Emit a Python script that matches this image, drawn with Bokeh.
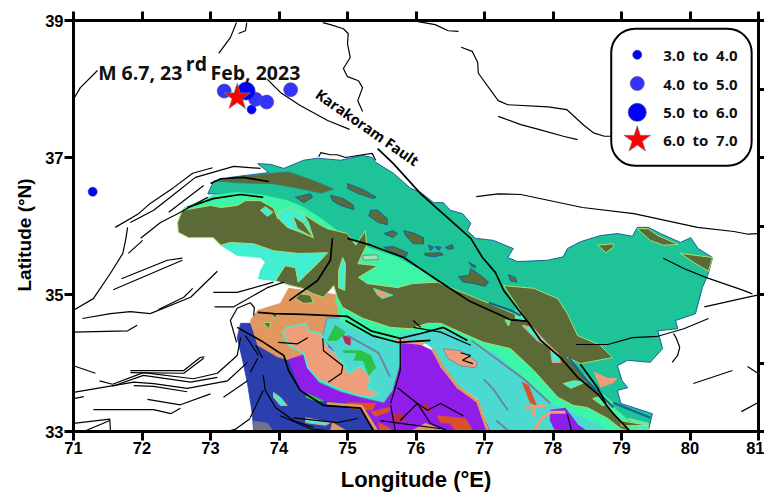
from bokeh.plotting import figure
from bokeh.embed import file_html
from bokeh.resources import INLINE
from bokeh.models import LinearAxis, FixedTicker, Range1d, Title
from bokeh.core.properties import value

# ---- earthquake catalogue (lon, lat) ----
mag_3_4 = [(73.60, 37.70), (71.28, 36.50)]
mag_4_5 = [(73.20, 37.97), (73.66, 37.85), (73.82, 37.81), (74.17, 37.99)]
mag_5_6 = [(73.52, 37.97)]
mag_6_7 = [(73.39, 37.88)]

legend_labels = ["3.0\u00a0\u00a0to\u00a0\u00a04.0", "4.0\u00a0\u00a0to\u00a0\u00a05.0",
                 "5.0\u00a0\u00a0to\u00a0\u00a06.0", "6.0\u00a0\u00a0to\u00a0\u00a07.0"]
legend_lat = [38.50, 38.08, 37.66, 37.26]
x_ticks = list(range(71, 82))
y_ticks_left = [33, 35, 37, 39]
y_ticks_right = list(range(33, 40))

# ---- geology polygons (lon, lat) ----
teal = [(72.96,36.47),(73.04,36.64),(73.29,36.71),(73.85,36.78),(73.69,36.91),(73.88,36.90),(74.07,36.84),(74.36,36.96),(74.56,36.99),(74.90,36.96),(75.22,37.03),(75.36,37.00),(75.41,36.93),(75.67,36.77),(75.92,36.55),(76.07,36.49),(76.26,36.34),(76.40,36.34),(76.50,36.23),(76.68,36.18),(76.80,36.04),(76.75,35.93),(76.87,35.82),(77.13,35.79),(77.42,35.67),(77.34,35.54),(77.48,35.48),(77.92,35.50),(78.15,35.55),(78.21,35.67),(78.40,35.77),(78.69,35.86),(78.94,35.89),(79.16,35.85),(79.23,35.98),(79.39,35.98),(79.57,35.89),(79.86,35.76),(80.01,35.83),(80.12,35.67),(80.33,35.54),(80.27,35.31),(80.18,35.10),(80.08,34.72),(79.79,34.62),(79.82,34.50),(79.53,34.47),(79.60,34.21),(79.42,34.01),(79.09,34.04),(78.94,33.96),(79.01,33.74),(79.09,33.64),(78.94,33.60),(78.99,33.41),(79.45,33.26),(79.39,33.0),(78.99,33.0),(78.40,33.74),(77.53,34.55),(76.36,35.13),(74.90,35.79),(73.58,36.45)]
aqua_north = [(72.61,36.26),(72.85,36.37),(73.04,36.45),(73.39,36.49),(73.77,36.45),(74.12,36.37),(74.36,36.27),(74.61,36.11),(75.00,35.82),(75.34,35.67),(75.73,35.54),(76.07,35.35),(76.31,35.18),(76.07,35.10),(75.77,35.06),(75.16,35.20),(74.31,35.35),(72.85,35.93),(72.56,36.15)]
olive_main = [(72.59,36.23),(72.66,36.24),(73.00,36.30),(73.15,36.27),(73.39,36.30),(73.51,36.37),(73.73,36.37),(73.92,36.26),(73.98,36.11),(74.31,36.20),(74.61,36.01),(74.71,35.96),(75.00,35.89),(75.12,35.72),(75.26,35.93),(75.28,35.72),(75.15,35.45),(75.44,35.42),(75.16,35.25),(75.29,35.16),(75.73,35.10),(75.95,35.16),(76.31,35.18),(77.60,34.65),(77.28,35.13),(77.72,35.09),(78.07,34.94),(78.21,34.72),(78.36,34.40),(78.69,34.26),(78.87,34.08),(78.40,33.99),(78.21,34.08),(78.50,33.77),(78.74,33.45),(79.13,33.0),(78.99,33.04),(78.80,33.19),(78.50,33.35),(78.30,33.38),(78.07,33.50),(77.72,33.89),(77.38,34.21),(76.99,34.30),(76.69,34.43),(76.36,34.58),(76.17,34.58),(75.92,34.50),(75.63,34.52),(75.23,34.65),(74.93,34.81),(74.85,34.96),(74.80,35.13),(74.65,34.96),(74.50,35.01),(74.34,35.09),(74.17,35.13),(73.95,35.20),(74.09,35.42),(74.24,35.39),(74.28,35.18),(74.56,35.45),(74.71,35.61),(74.28,35.60),(73.92,35.64),(73.63,35.74),(73.29,35.76),(73.15,35.72),(73.04,35.83),(72.68,35.83),(72.53,35.91),(72.52,36.05)]
olive_strip = [(73.06,36.66),(73.42,36.72),(73.90,36.77),(74.14,36.79),(74.48,36.67),(74.80,36.54),(74.62,36.48),(74.33,36.54),(73.90,36.62),(73.40,36.63)]
turq_nw = [(73.15,35.72),(73.39,35.57),(73.73,35.54),(73.80,35.47),(73.73,35.35),(73.70,35.23),(73.95,35.20),(74.09,35.42),(74.24,35.39),(74.28,35.18),(74.56,35.45),(74.71,35.61),(74.28,35.60),(73.92,35.64),(73.63,35.74),(73.29,35.76)]
turq_patch = [(73.99,36.20),(74.17,36.27),(74.34,36.20),(74.43,36.05),(74.50,35.83),(74.31,35.91),(74.12,35.98),(73.99,36.11)]
olive_in_patch = [(74.20,36.15),(74.36,36.04),(74.50,35.83),(74.27,35.96)]
turq_diamond = [(73.73,36.23),(73.80,36.28),(73.91,36.20),(73.83,36.14)]
turq_sliver = [(74.93,35.54),(74.97,35.45),(74.96,35.06),(74.87,35.10),(74.87,35.35)]
salmon_small = [(75.38,35.09),(75.66,34.99),(75.51,34.94),(75.44,34.99)]
pale_lens = [(75.22,35.57),(75.44,35.58),(75.45,35.51),(75.23,35.50)]
olive_tan_1 = [(74.31,35.01),(74.46,34.99),(74.50,34.88),(74.36,34.87),(74.24,34.94)]
olive_tan_2 = [(73.77,34.59),(73.88,34.59),(73.85,34.50)]
olive_tan_3 = [(73.88,34.72),(73.98,34.72),(73.95,34.65)]
tan_main = [(73.58,34.62),(73.69,34.77),(74.02,34.87),(74.14,35.09),(74.90,34.99),(75.04,34.62),(74.75,34.26),(74.17,34.07),(74.12,34.05),(73.98,34.09),(73.69,34.26)]
aqua_south = [(74.82,34.99),(74.90,34.60),(75.26,34.42),(75.70,34.30),(76.18,34.28),(76.36,34.35),(76.70,34.22),(77.15,33.95),(77.50,33.60),(77.90,33.25),(78.25,33.15),(78.60,33.0),(79.28,33.0),(78.69,33.53),(77.53,34.47),(76.36,34.77),(75.48,34.77),(74.97,35.06)]
turq_east = [(75.77,34.43),(76.17,34.45),(76.36,34.50),(76.69,34.37),(77.19,34.11),(77.57,33.77),(77.96,33.41),(78.30,33.26),(78.74,33.06),(78.69,33.0),(77.09,33.0),(76.99,33.26),(76.90,33.48),(76.61,33.67),(76.39,33.96),(76.24,34.21),(76.11,34.33),(75.77,34.33)]
purple_main = [(74.07,34.08),(74.12,33.89),(74.28,33.60),(74.42,33.45),(74.71,33.38),(75.19,33.31),(75.34,33.13),(75.41,33.0),(77.09,33.0),(76.90,33.41),(76.61,33.64),(76.36,33.93),(76.24,34.18),(75.77,34.40),(74.90,34.47),(74.31,34.33)]
purple_lens = [(77.96,33.31),(78.18,33.34),(78.37,33.09),(78.50,33.0),(78.04,33.0),(77.96,33.16)]
turq_west = [(74.70,34.66),(75.09,34.65),(75.53,34.50),(75.77,34.37),(75.77,33.99),(75.66,33.60),(75.53,33.42),(75.19,33.50),(74.90,33.58),(74.58,33.72),(74.50,33.85),(74.80,34.18),(74.63,34.37)]
salmon_main = [(74.05,34.45),(74.12,34.52),(74.39,34.58),(74.43,34.47),(74.61,34.43),(74.71,34.23),(74.82,34.14),(74.96,33.96),(75.01,33.85),(75.19,33.96),(75.34,33.79),(75.29,33.64),(75.48,33.55),(75.34,33.50),(75.15,33.53),(74.85,33.63),(74.56,33.77),(74.42,33.93),(74.36,34.14),(74.14,34.26)]
blue_main = [(73.44,34.58),(73.58,34.58),(73.69,34.28),(73.98,34.11),(74.12,34.07),(74.21,33.85),(74.31,33.60),(74.50,33.45),(75.00,33.41),(75.29,33.26),(75.41,33.0),(73.63,33.0),(73.61,33.26),(73.54,33.70),(73.48,33.99),(73.39,34.37)]
green_1 = [(74.71,34.33),(74.82,34.55),(74.97,34.45),(74.85,34.33)]
green_2 = [(74.93,34.18),(75.19,34.18),(75.34,34.11),(75.41,33.93),(75.31,33.82),(75.23,34.04),(75.04,34.04)]
green_lens = [(74.42,33.55),(74.65,33.45),(74.53,33.45),(74.39,33.50)]
turq_hole = [(74.93,34.14),(75.12,34.14),(75.07,33.99),(74.94,34.01)]
crimson_1 = [(74.93,34.40),(75.04,34.37),(75.04,34.26),(74.97,34.29)]
crimson_2 = [(75.63,33.23),(75.77,33.28),(75.85,33.16),(75.70,33.13)]
crimson_3 = [(76.07,33.34),(76.14,33.42),(76.24,33.28)]
red_1 = [(75.00,33.42),(75.41,33.41),(75.36,33.31),(75.04,33.34)]
red_2 = [(75.34,33.28),(75.63,33.36),(75.60,33.29),(75.41,33.22)]
red_3 = [(75.45,33.13),(75.63,33.04),(75.60,33.0),(75.48,33.0)]
red_4 = [(76.31,33.23),(76.72,33.19),(76.84,33.0),(76.58,33.0),(76.50,33.12),(76.36,33.13)]
red_5 = [(77.55,33.72),(77.64,33.67),(77.76,33.38),(77.67,33.42)]
tan_bottom = [(76.14,33.12),(76.43,33.0),(75.92,33.0)]
tan_blue = [(74.78,33.13),(75.0,33.0),(74.75,33.0)]
salmon_lens = [(76.40,34.21),(76.65,34.18),(76.90,34.01),(76.87,33.93),(76.65,33.96),(76.46,34.07)]
salmon_se = [(78.58,33.89),(78.80,33.79),(78.96,33.79),(78.88,33.70),(78.69,33.63),(78.62,33.79)]
aqua_lens = [(78.58,33.48),(78.74,33.53),(78.88,33.41),(78.72,33.38)]
aqua_small = [(77.30,34.63),(77.38,34.62),(77.35,34.54)]
turq_lens = [(78.15,33.70),(78.30,33.74),(78.47,33.72),(78.26,33.63)]
turq_fault = [(77.55,34.55),(77.70,34.52),(77.92,34.28),(78.07,34.14),(78.11,34.01),(77.99,34.01),(77.96,34.23),(77.77,34.33)]
turq_wedge = [(77.45,34.77),(77.63,34.62),(77.45,34.65)]
turq_tail = [(79.10,33.19),(79.39,33.12),(79.39,33.01),(79.28,33.01)]
olive_tail = [(78.99,33.16),(79.38,33.09),(79.0,33.08)]
turq_island = [(73.92,33.57),(74.02,33.50),(74.12,33.38),(74.02,33.38),(73.92,33.50)]
turq_strip = [(74.39,33.20),(74.75,33.13),(74.68,33.09),(74.39,33.13)]
grey_blue = [(73.63,33.15),(73.83,33.12),(73.92,33.0),(73.63,33.0)]
islands_blue = [
    [(74.24,36.42),(74.46,36.47),(74.49,36.42),(74.36,36.34)],
    [(74.75,36.45),(74.94,36.40),(75.09,36.30),(75.09,36.24),(74.90,36.30),(74.78,36.37)],
    [(75.0,36.62),(75.23,36.53),(75.42,36.42),(75.38,36.40),(75.16,36.47),(75.0,36.55)],
    [(75.34,36.23),(75.44,36.23),(75.58,36.11),(75.58,36.02),(75.45,36.05),(75.31,36.15)],
    [(75.53,35.89),(75.66,35.93),(75.73,35.89),(75.66,35.83)],
    [(75.82,35.93),(75.96,35.90),(76.11,35.83),(76.11,35.74),(75.96,35.74),(75.85,35.86)],
    [(75.53,35.69),(75.67,35.70),(75.88,35.61),(75.85,35.55),(75.66,35.61)],
    [(76.12,35.60),(76.36,35.61),(76.40,35.58),(76.26,35.55),(76.14,35.57)],
    [(76.18,35.72),(76.26,35.69),(76.21,35.64)],
    [(76.28,35.70),(76.37,35.69),(76.33,35.64)],
    [(76.43,35.69),(76.53,35.73),(76.55,35.67),(76.47,35.66)],
    [(76.77,35.47),(76.87,35.42),(76.87,35.39),(76.81,35.41)],
    [(76.62,35.26),(76.77,35.28),(76.80,35.38),(76.94,35.28),(77.06,35.18),(77.01,35.12),(76.84,35.16),(76.69,35.18)],
    [(77.35,35.29),(77.45,35.25),(77.47,35.18),(77.38,35.20)],
]
islands_lime = [
    [(78.65,35.72),(78.88,35.74),(78.88,35.69),(78.77,35.61),(78.72,35.66)],
    [(79.23,35.96),(79.39,35.96),(79.53,35.86),(79.83,35.73),(79.61,35.72),(79.42,35.79)],
    [(79.86,35.60),(80.33,35.54),(80.27,35.34),(80.05,35.47)],
]

# ---- coloured internal contacts (lon, lat) ----
salmon_branch = [
    [(77.60,33.35),(77.89,33.38)],
    [(77.72,33.38),(77.72,33.22)],
    [(77.72,33.0),(77.82,33.18),(77.96,33.28),(78.18,33.28)],
    [(75.70,34.33),(76.11,34.28)],
]
tan_edge = [
    [(76.24,34.20),(76.39,33.94),(76.61,33.65),(76.90,33.44),(77.05,33.0)],
    [(74.70,33.41),(75.20,33.37),(75.42,33.02)],
]
grey_contacts = [
    [(76.99,33.76),(77.12,33.63),(77.34,33.31)],
    [(77.17,33.16),(77.35,33.01)],
    [(76.81,34.33),(77.57,33.77),(77.96,33.41)],
    [(75.00,34.40),(75.45,34.15),(75.62,33.80)],
]
blue_contacts = [
    [(77.06,34.88),(77.38,34.77),(77.53,34.69)],
    [(78.88,33.42),(79.42,33.20)],
    [(78.23,34.08),(78.50,33.74),(78.88,33.35)],
]

# ---- faults (lon, lat) ----
faults_thin = [
    [(73.12,38.52),(73.29,38.75),(73.38,38.97)],
    [(73.41,38.81),(73.51,38.85),(73.53,38.97)],
    [(74.64,38.97),(74.75,38.94),(74.94,38.88),(75.01,38.81),(75.00,38.66),(75.04,38.46),(74.94,38.30),(75.00,38.18),(75.16,38.12),(75.22,38.02),(75.15,37.83),(75.22,37.67)],
    [(71.0,37.85),(71.10,38.02),(71.35,38.27)],
    [(73.83,38.14),(74.02,37.95),(74.31,37.76),(74.71,37.54),(75.03,37.41)],
    [(75.99,38.99),(76.28,38.94),(76.47,38.85),(76.62,38.84)],
    [(76.66,38.61),(76.82,38.55),(76.90,38.39),(76.91,38.23),(77.20,37.83),(77.34,37.77),(77.93,37.74),(78.20,37.70),(78.45,37.47),(78.59,37.36),(78.75,37.31),(78.85,37.31)],
    [(77.20,37.60),(77.53,37.48),(77.79,37.41),(78.15,37.31),(78.36,37.26)],
    [(76.88,36.43),(77.20,36.47),(77.53,36.46),(78.43,36.27),(79.18,36.18),(80.11,35.98),(80.64,35.92),(80.85,35.88),(80.99,35.89)],
    [(79.61,35.53),(79.91,35.38),(80.23,35.25),(80.78,35.06),(80.91,35.01)],
    [(80.21,34.82),(80.88,34.97),(80.99,34.99)],
    [(78.34,34.27),(78.80,34.27),(79.16,34.37),(79.53,34.39),(79.91,34.50),(80.27,34.65)],
    [(79.76,34.43),(79.80,34.36),(79.85,34.23),(79.82,34.11),(79.74,34.01)],
    [(80.05,33.70),(80.62,33.89)],
    [(80.84,33.95),(80.99,33.85)],
    [(80.75,33.29),(80.99,33.42)],
    [(74.58,37.01),(74.61,37.07),(74.75,37.04),(74.85,37.04),(74.97,37.0),(75.22,37.04),(75.36,37.06),(75.41,36.96)],
    [(71.61,35.98),(71.95,36.18),(72.12,36.33),(72.46,36.56),(72.74,36.77),(73.03,36.85)],
    [(71.83,36.05),(72.17,36.23),(72.45,36.45),(72.78,36.71),(73.34,36.87),(73.73,36.84)],
    [(72.39,36.20),(72.90,36.59)],
    [(71.98,35.82),(72.27,36.05),(72.52,36.18),(72.96,36.42)],
    [(71.0,34.77),(71.29,34.94),(71.54,35.31),(71.72,35.60),(71.76,35.79),(71.79,35.98)],
    [(71.80,35.60),(72.01,35.79)],
    [(71.70,35.23),(72.37,35.50),(72.59,35.53)],
    [(71.58,35.07),(72.52,35.47),(72.59,35.50)],
    [(71.13,34.65),(71.54,34.72),(71.83,34.75),(72.12,34.72)],
    [(71.0,34.45),(71.79,34.47),(71.93,34.55)],
    [(72.12,34.72),(72.71,34.96),(73.10,35.34)],
    [(72.24,34.78),(72.61,34.96),(72.74,35.09)],
    [(73.04,35.03),(73.39,35.03),(73.92,35.18)],
    [(73.06,34.82),(73.34,34.82),(73.83,35.10),(74.07,35.18)],
    [(73.38,34.30),(73.29,34.62),(73.39,34.80),(73.58,34.88),(73.64,34.81),(73.63,34.69)],
    [(71.0,33.96),(71.32,33.85)],
    [(71.83,33.89),(72.61,33.89),(72.85,34.08),(72.91,34.09)],
    [(71.83,33.86),(72.61,33.85),(72.90,34.07)],
    [(71.38,33.74),(71.57,33.69),(72.02,33.86),(72.75,33.77),(73.10,33.85),(73.39,34.11),(73.44,34.37)],
    [(71.57,33.66),(72.02,33.82),(72.71,33.72),(73.10,33.79)],
    [(71.0,33.57),(71.88,33.72),(72.17,33.70),(72.66,33.63),(73.25,33.74),(73.54,34.01)],
    [(71.88,33.67),(72.17,33.66),(72.66,33.58)],
    [(71.0,33.48),(71.15,33.51)],
    [(72.08,33.47),(72.56,33.39),(73.0,33.55)],
    [(71.29,33.32),(72.17,33.32),(72.42,33.26),(72.56,33.34)],
    [(73.19,33.50),(73.54,33.74)],
    [(71.0,33.12),(71.53,33.18),(71.54,33.0)],
    [(71.15,33.0),(71.53,33.16)],
    [(73.23,33.0),(73.36,33.03),(73.58,33.19)],
    [(73.77,33.82),(73.80,33.60),(73.95,33.35),(74.21,33.16),(74.50,33.06)],
    [(73.58,33.20),(73.77,33.60)],
    [(74.21,33.20),(74.85,33.13),(75.15,33.19)],
    [(74.02,33.23),(74.46,33.04),(74.82,33.0)],
    [(73.66,34.26),(73.76,34.07)],
    [(73.51,34.40),(73.70,34.11)],
    [(73.58,33.86),(73.69,34.07)],
    [(74.64,34.36),(74.65,34.18),(74.93,33.96),(74.91,33.85),(74.72,33.72)],
    [(73.99,34.30),(74.27,34.28),(74.42,34.37)],
    [(78.21,33.25),(78.27,33.01)],
    [(75.96,34.62),(76.07,34.52)],
    [(75.77,34.36),(75.77,33.89),(75.63,33.41)],
    [(75.73,33.64),(76.02,33.41),(76.17,33.31),(76.36,33.41),(76.69,33.23)],
    [(75.77,33.16),(76.02,33.41),(76.21,33.12),(76.46,33.01)],
    [(75.48,33.16),(76.36,33.04)],
    [(75.63,33.38),(75.70,33.0)],
    [(76.65,34.15),(76.80,34.11),(76.68,34.04),(76.83,33.99)],
    [(75.96,34.52),(76.36,34.45),(76.80,34.26)],
]
faults_thick = [
    [(75.44,37.13),(75.67,36.91),(76.07,36.47),(76.80,35.82),(76.97,35.54),(77.16,35.32),(77.28,35.06),(77.64,34.59),(77.82,34.33),(78.11,34.08),(78.36,33.79),(78.65,33.55),(78.88,33.26),(79.13,33.0)],
    [(78.40,33.98),(78.65,33.64),(78.77,33.41)],
    [(75.00,35.82),(75.34,35.72),(75.82,35.54),(76.36,35.18),(76.77,34.91),(77.19,34.72),(77.38,34.63),(77.63,34.61)],
    [(73.0,36.62),(73.15,36.69),(73.48,36.71),(73.85,36.65)],
    [(72.66,36.27),(73.04,36.40),(73.44,36.46),(73.77,36.42)],
    [(74.78,35.82),(74.75,35.50),(74.56,35.20),(74.15,34.91)],
    [(73.39,34.52),(73.73,34.33),(74.07,34.11),(74.14,33.89),(74.31,33.60),(74.65,33.38),(75.19,33.34),(75.38,33.01)],
    [(73.69,34.74),(73.92,34.72),(74.36,34.71),(75.0,34.68),(75.34,34.47),(75.77,34.36),(76.07,34.43),(76.40,34.52),(76.75,34.33)],
    [(74.97,34.62),(75.36,34.40),(75.74,34.30),(76.21,34.33)],
]

TEAL, OLIVE, AQUA = "#1EC497", "#5B6A36", "#3DF5A8"
TURQ, TURQ2, SALMON = "#4BD9D0", "#42EFD2", "#EE9E7A"
TAN, PURPLE, BLUE, GREEN = "#E1985F", "#8F1EEB", "#2B40AE", "#2CC24A"
RED, CRIMSON, LIME, EDGE = "#D9502B", "#B82A55", "#A8E070", "#15609F"

p = figure(width=764, height=495, output_backend="svg", toolbar_location=None,
           x_range=Range1d(71, 81), y_range=Range1d(33, 39),
           x_axis_location=None, y_axis_location=None,
           min_border_left=73, min_border_right=6, min_border_top=20, min_border_bottom=64,
           outline_line_color=None, background_fill_color="white", border_fill_color="white")
p.grid.visible = False


def fill(polys, color, line=None, lw=0.8):
    p.patches([[q[0] for q in poly] for poly in polys],
              [[q[1] for q in poly] for poly in polys],
              fill_color=color, line_color=line if line else color, line_width=lw)


def lines(paths, color, lw):
    p.multi_line([[q[0] for q in path] for path in paths],
                 [[q[1] for q in path] for path in paths],
                 line_color=color, line_width=lw)


fill([teal], TEAL, EDGE, 1.0)
fill([aqua_north], AQUA)
fill([turq_nw], TURQ2)
fill([purple_main], PURPLE)
fill([blue_main], BLUE)
fill([tan_main], TAN)
fill([turq_west], TURQ, "#70809A", 0.8)
fill([salmon_main], SALMON, TURQ2, 1.5)
fill([green_1, green_2, green_lens], GREEN)
fill([turq_hole], TURQ)
fill([crimson_1, crimson_2, crimson_3], CRIMSON)
fill([red_1, red_2, red_3, red_4], RED)
fill([tan_bottom, tan_blue], TAN)
fill([grey_blue], "#70748C")
fill([aqua_south], AQUA)
fill([turq_east], TURQ)
fill([red_5], RED)
fill([purple_lens], PURPLE)
fill([olive_main], OLIVE, LIME, 1.0)
fill([olive_strip], OLIVE, "#3A7F70", 1.0)
fill([turq_patch, turq_diamond, turq_sliver], TURQ2, LIME, 1.0)
fill([olive_in_patch], OLIVE, LIME, 1.0)
fill([salmon_small], SALMON, AQUA, 1.0)
fill([pale_lens], "#9FE7B8", "#8C7F8C", 1.0)
fill([olive_tan_1, olive_tan_2, olive_tan_3], OLIVE, LIME, 1.0)
fill([salmon_lens], SALMON, "#7A8CA0", 1.0)
fill([salmon_se], SALMON, TEAL, 1.0)
fill([aqua_lens, aqua_small], AQUA, LIME, 1.0)
fill([turq_lens, turq_wedge, turq_tail], TURQ2, LIME, 1.0)
fill([turq_fault], TURQ2, SALMON, 1.2)
fill([olive_tail], OLIVE, LIME, 1.0)
fill([turq_island, turq_strip], TURQ2, SALMON, 1.0)
fill(islands_blue, OLIVE, EDGE, 1.0)
fill(islands_lime, OLIVE, LIME, 1.0)
lines(salmon_branch, SALMON, 3)
lines(tan_edge, TAN, 3)
lines(grey_contacts, "#70809A", 1.8)
lines(blue_contacts, "#14609F", 2)
lines(faults_thin, "black", 1.2)
lines(faults_thick, "black", 1.7)

# legend box
p.quad(left=[78.85], right=[80.90], top=[38.88], bottom=[36.88], fill_color="white",
       line_color="black", line_width=2, border_radius=24)

# earthquakes and legend symbols
for pts, color, line, sym, size, idx in [
    (mag_3_4, "#0000FF", "#3A3AA0", "circle", 9, 0),
    (mag_4_5, "#3333FF", "#555577", "circle", 14, 1),
    (mag_5_6, "#0000FF", "#3A3AA0", "circle", 18, 2),
    (mag_6_7, "#FF0000", "#777777", "star", 28, 3),
]:
    p.scatter([q[0] for q in pts] + [79.23], [q[1] for q in pts] + [legend_lat[idx]],
              marker=sym, size=size, fill_color=color, line_color=line, line_width=0.7)

p.text(x=[79.61] * 4, y=legend_lat, text=legend_labels, text_font=value("Open Sans"),
       text_font_style="bold", text_font_size="15px", text_baseline="middle", text_color="#111111")

p.text(x=[71.36, 72.64, 73.0], y=[38.24, 38.37, 38.24], text=["M 6.7, 23", "rd", "Feb, 2023"],
       text_font=value("Open Sans"), text_font_style="bold", text_font_size="19.5px",
       text_baseline="alphabetic", text_color="#111111")
p.text(x=[74.56], y=[37.95], text=["Karakoram Fault"], angle=[-0.61], text_font=value("Open Sans"),
       text_font_style="bold", text_font_size="14.5px", text_baseline="middle", text_color="black")

FONT = "Liberation Sans"


def axis(loc, ticks, labels=False, title=None):
    a = LinearAxis(ticker=FixedTicker(ticks=ticks))
    a.axis_line_width = 3
    a.axis_line_color = "black"
    a.major_tick_line_width = 3
    a.major_tick_line_color = "black"
    a.major_tick_in = 0
    a.major_tick_out = 9
    a.minor_tick_line_color = None
    a.major_label_standoff = 1
    a.major_label_text_font = FONT
    a.major_label_text_font_style = "bold"
    a.major_label_text_font_size = "16.5px"
    a.major_label_text_color = "black"
    if not labels:
        a.major_label_overrides = {t: "" for t in ticks}
        a.major_label_standoff = 0
        a.major_tick_out = 6 if loc == "right" else 9
    if title:
        a.axis_label = title
        a.axis_label_text_font = FONT
        a.axis_label_text_font_style = "bold"
        a.axis_label_text_color = "black"
        a.axis_label_text_font_size = "22px"
        a.axis_label_standoff = 10
    p.add_layout(a, loc)


axis("below", x_ticks, True, "Longitude (°E)")
axis("left", y_ticks_left, True)
axis("above", x_ticks)
axis("right", y_ticks_right)

lat_title = Title(text="Latitude (°N)", align="left", offset=140, standoff=16,
                  text_font=FONT, text_font_style="bold", text_font_size="19px", text_color="black")
p.add_layout(lat_title, "left")

open("out.html", "w").write(file_html(p, INLINE))
